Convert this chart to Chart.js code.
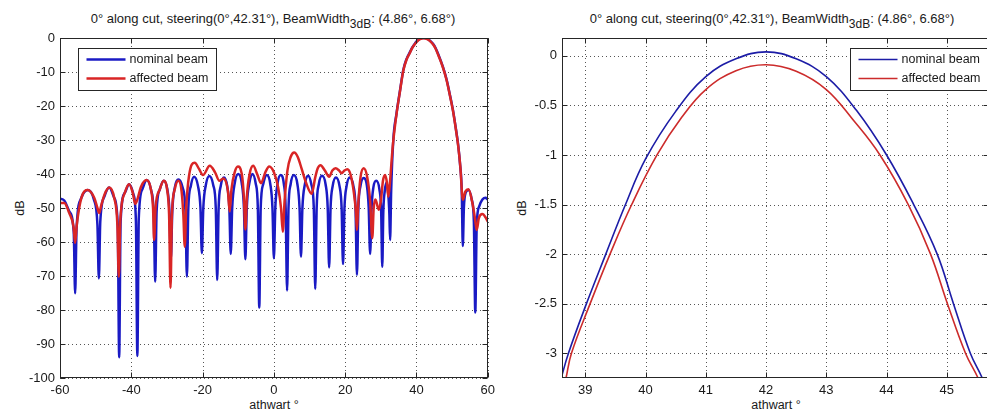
<!DOCTYPE html>
<html>
<head>
<meta charset="utf-8">
<script src="https://cdn.jsdelivr.net/npm/chart.js@4.4.0/dist/chart.umd.min.js"></script>
<style>
  html, body { margin: 0; padding: 0; background: #fff; }
  body { width: 987px; height: 414px; overflow: hidden; position: relative;
         font-family: "Liberation Sans", Arial, sans-serif; color: #1a1a1a; }
  canvas { position: absolute; top: 0; }
  .title { position: absolute; top: 12px; font-size: 13px; line-height: 14px; white-space: nowrap; transform: translateX(-50%); }
  .title sub { font-size: 12px; vertical-align: -5px; line-height: 0; }
  .xlabel { position: absolute; top: 398px; font-size: 12.5px; line-height: 14px; white-space: nowrap; transform: translateX(-50%); }
  .ylabel { position: absolute; font-size: 12.5px; line-height: 14px; transform: translate(-50%, -50%) rotate(-90deg); }
</style>
</head>
<body>
<div class="title" style="left:273px">0° along cut, steering(0°,42.31°), BeamWidth<sub>3dB</sub>: (4.86°, 6.68°)</div>
<div class="title" style="left:772px">0° along cut, steering(0°,42.31°), BeamWidth<sub>3dB</sub>: (4.86°, 6.68°)</div>
<div class="ylabel" style="left:20px; top:208px">dB</div>
<div class="ylabel" style="left:522px; top:208px">dB</div>
<div class="xlabel" style="left:274px">athwart °</div>
<div class="xlabel" style="left:776px">athwart °</div>
<canvas id="fullCut" width="500" height="414" style="left:0"></canvas>
<canvas id="peakZoom" width="500" height="414" style="left:500px"></canvas>
<script>
// athwart angle (deg), level (dB)
const nominalBeam = [
  [-60,-47.3],[-58.8,-47.8],[-57.4,-51],[-56.15,-57],[-55.75,-75.1],[-55.35,-56],[-54.0,-47],[-52.2,-44.7],
  [-50.5,-47.5],[-49.5,-55],[-49.1,-70.7],[-48.7,-54],[-47.5,-46.5],[-46.2,-44.0],[-44.8,-47],[-43.8,-55],
  [-43.4,-93.9],[-43.0,-54],[-41.8,-45.5],[-40.6,-43.0],[-39.4,-46],[-38.7,-54],[-38.3,-93.5],[-37.9,-53],
  [-36.9,-44.5],[-35.7,-41.8],[-34.5,-44.5],[-33.7,-52],[-33.3,-71.7],[-32.9,-51],[-32.0,-44.5],[-30.9,-42.0],
  [-29.9,-44.5],[-29.3,-51],[-28.9,-65],[-28.5,-51],[-27.8,-44],[-26.8,-41.6],[-25.6,-44],[-24.8,-51],
  [-24.4,-70.2],[-24.0,-50],[-23.3,-43.5],[-22.4,-40.8],[-21.3,-43.5],[-20.6,-50],[-20.2,-63.3],[-19.8,-50],
  [-19.1,-43.3],[-18.1,-40.6],[-17.0,-43.3],[-16.3,-50],[-15.9,-71.2],[-15.5,-50],[-14.9,-43.5],[-14.0,-41.0],
  [-13.1,-43.5],[-12.5,-50],[-12.1,-63.5],[-11.7,-50],[-11.0,-42.8],[-10.0,-40.0],[-9.0,-42.8],[-8.4,-50],
  [-8.0,-65.1],[-7.6,-50],[-6.9,-42.8],[-6.0,-40.0],[-5.1,-42.8],[-4.5,-50],[-4.1,-79.3],[-3.7,-50],
  [-3.0,-43],[-2.0,-40.3],[-1.0,-43],[-0.4,-50],[0.0,-64.8],[0.4,-50],[1.0,-43],[1.9,-40.3],
  [2.8,-43],[3.3,-50],[3.7,-74.3],[4.1,-50],[4.7,-43],[5.6,-40.3],[6.6,-43],[7.2,-50],
  [7.6,-64.3],[8.0,-50],[8.7,-43],[9.6,-40.5],[10.5,-43],[11.2,-50],[11.6,-73.8],[12.0,-50],
  [12.6,-43],[13.5,-40.5],[14.5,-43],[15.1,-50],[15.5,-67.5],[15.9,-50],[16.5,-43.5],[17.4,-41],
  [18.4,-43.5],[19.0,-50],[19.4,-66.5],[19.8,-50],[20.4,-43.5],[21.3,-41],[22.3,-43.5],[22.9,-50],
  [23.3,-69.7],[23.7,-50],[24.3,-43.5],[25.2,-41.2],[26.1,-43.5],[26.6,-50],[27.0,-63.5],[27.4,-50],
  [27.9,-44],[28.7,-42.0],[29.6,-44.5],[30.1,-51],[30.4,-67.3],[30.7,-51],[31.1,-45],[31.6,-42.5],
  [32.1,-46],[32.4,-52],[32.6,-59.4],[32.9,-45],[33.5,-30],[34.4,-22.2],[35.4,-15.3],[36.3,-9.4],
  [37.2,-6.2],[38.1,-4.3],[38.72,-3.0],[39.34,-2.0],[40.02,-1.0],[41.0,-0.21],[42.0,0.04],[43.0,-0.21],
  [44.0,-1.0],[44.84,-2.0],[45.39,-3.0],[46.2,-5.0],[47.4,-8.4],[48.4,-12.0],[49.3,-16.3],[50.2,-21.0],
  [51.1,-27.0],[51.7,-31.5],[52.2,-36.8],[52.7,-45],[53.0,-61.2],[53.3,-50],[53.8,-45.5],[54.6,-44.7],
  [55.5,-47.5],[56.1,-54],[56.5,-80.7],[56.9,-55],[57.6,-49.5],[58.5,-47.5],[59.4,-47.0],[60,-47.5]
];

const affectedBeam = [
  [-60,-48.6],[-58.8,-48.5],[-57.4,-51.5],[-56.2,-55.5],[-55.75,-60.3],[-55.3,-55],[-54.0,-47],[-52.2,-44.7],
  [-50.4,-47],[-49.5,-50],[-49.0,-51.5],[-48.5,-49.5],[-47.5,-46],[-46.2,-44.0],[-44.8,-47],[-43.9,-55],
  [-43.5,-70.2],[-43.1,-54],[-41.8,-45.5],[-40.6,-43.0],[-39.6,-45.5],[-38.9,-48.8],[-38.3,-47.5],[-37.3,-43.8],
  [-35.7,-41.8],[-34.5,-44.5],[-33.9,-50],[-33.6,-59.4],[-33.2,-50],[-32.0,-44.5],[-30.9,-42.0],[-29.9,-45],
  [-29.4,-52],[-29.0,-73.5],[-28.6,-52],[-27.8,-44.5],[-26.8,-42],[-25.9,-45],[-25.4,-52],[-25.0,-61.4],
  [-24.6,-50],[-23.8,-40.5],[-22.2,-36.7],[-21.0,-38.5],[-19.9,-40.3],[-18.0,-37.6],[-16.5,-39.5],[-15.3,-42],
  [-14.2,-41.3],[-12.9,-45],[-12.4,-51],[-11.9,-44.5],[-11.0,-39.5],[-10.1,-37.8],[-9.0,-40],[-8.4,-47],
  [-8.0,-56.3],[-7.6,-47],[-6.8,-40],[-5.8,-37.6],[-4.7,-40],[-3.6,-42.7],[-2.4,-39.5],[-1.3,-37.8],
  [0.0,-39.5],[1.2,-44],[2.0,-50],[2.5,-57],[3.0,-48],[3.8,-39],[4.7,-35],[5.7,-33.7],
  [6.7,-35],[7.8,-38.5],[9.0,-42.5],[10.6,-45.8],[11.6,-41],[12.3,-38.3],[13.1,-37.4],[14.3,-39],
  [15.5,-40.8],[16.4,-39],[17.3,-38.3],[18.3,-39],[19.0,-39.8],[19.8,-39],[20.6,-38.6],[21.6,-40.5],
  [22.5,-46],[23.0,-51],[23.3,-56.5],[23.6,-50],[24.3,-41],[25.2,-38.3],[26.2,-41],[27.0,-48],
  [27.6,-58.9],[28.0,-50],[28.5,-47.5],[29.4,-50.5],[30.0,-48],[30.6,-42],[31.2,-40.3],[31.7,-42.5],
  [32.1,-46.7],[32.6,-42],[33.1,-35],[33.5,-30.2],[34.4,-22.4],[35.4,-15.5],[36.3,-9.6],[37.2,-6.4],
  [38.1,-4.5],[38.77,-3.0],[39.41,-2.0],[40.19,-1.0],[41.0,-0.34],[42.0,-0.09],[43.0,-0.34],[43.89,-1.0],
  [44.73,-2.0],[45.31,-3.0],[46.1,-5.0],[47.4,-8.6],[48.4,-12.2],[49.3,-16.5],[50.2,-21.2],[51.1,-27.2],
  [51.7,-31.7],[52.3,-37.8],[53.0,-47.6],[53.7,-45.2],[54.6,-44.5],[55.7,-48.6],[56.4,-53],[56.9,-56.5],
  [57.5,-53],[58.5,-51.8],[59.4,-52.8],[60,-54]
];

// main lobe
const zoomNominal = [
  [38.6,-3.25],[38.72,-3.0],[39.0,-2.53],[39.34,-2.0],[39.66,-1.51],[40.0,-1.04],[40.5,-0.56],
  [41.0,-0.21],[41.5,-0.03],[42.0,0.04],[42.5,-0.03],[43.0,-0.21],[43.5,-0.55],[44.0,-1.0],
  [44.45,-1.5],[44.84,-2.0],[45.11,-2.5],[45.39,-3.0],[45.58,-3.24],[45.72,-3.45]
];
const zoomAffected = [
  [38.68,-3.25],[38.77,-3.0],[39.08,-2.5],[39.41,-2.0],[39.77,-1.5],[40.19,-1.0],[40.6,-0.62],
  [41.0,-0.34],[41.5,-0.15],[42.0,-0.09],[42.5,-0.155],[43.0,-0.34],[43.45,-0.65],[43.89,-1.0],
  [44.36,-1.5],[44.73,-2.0],[45.01,-2.5],[45.31,-3.0],[45.51,-3.24],[45.63,-3.42]
];

const fullAngleTicks = { min: -60, max: 60, step: 20 };
const fullDbTicks = { min: -100, max: 0, step: 10 };
const zoomAngleTicks = { min: 38.613, max: 45.7, step: 1 };
const zoomDbTicks = { min: -3.25, max: 0.18, step: 0.5 };

const textColor = '#1a1a1a';
const fontFamily = '"Liberation Sans", Arial, sans-serif';

// MATLAB-ish axes: dotted grid under the lines, box + inward ticks + legend on top
const matlabFrame = {
  id: 'matlabFrame',
  beforeDatasetsDraw(chart) {
    const { ctx, chartArea: a, scales: { x, y } } = chart;
    ctx.save();
    ctx.strokeStyle = '#555';
    ctx.lineWidth = 1;
    ctx.setLineDash([1, 3]);
    ctx.beginPath();
    x.ticks.forEach(t => {
      const px = Math.round(x.getPixelForValue(t.value)) + 0.5;
      ctx.moveTo(px, a.top); ctx.lineTo(px, a.bottom);
    });
    y.ticks.forEach(t => {
      const py = Math.round(y.getPixelForValue(t.value)) + 0.5;
      ctx.moveTo(a.left, py); ctx.lineTo(a.right, py);
    });
    ctx.stroke();
    ctx.restore();
  },
  afterDatasetsDraw(chart, args, opts) {
    const { ctx, chartArea: a, scales: { x, y } } = chart;
    const L = Math.round(a.left) + 0.5, R = Math.round(a.right) - 0.5;
    const T = Math.round(a.top) + 0.5, B = Math.round(a.bottom) - 0.5;
    ctx.save();
    ctx.strokeStyle = '#262626';
    ctx.lineWidth = 1;
    ctx.strokeRect(L, T, R - L, B - T);
    ctx.beginPath();
    x.ticks.forEach(t => {
      const px = Math.round(x.getPixelForValue(t.value)) + 0.5;
      ctx.moveTo(px, B); ctx.lineTo(px, B - 5);
      ctx.moveTo(px, T); ctx.lineTo(px, T + 5);
    });
    y.ticks.forEach(t => {
      const py = Math.round(y.getPixelForValue(t.value)) + 0.5;
      ctx.moveTo(L, py); ctx.lineTo(L + 5, py);
      ctx.moveTo(R, py); ctx.lineTo(R - 5, py);
    });
    ctx.stroke();

    const box = opts.legend;
    const bx = Math.round(a.left + box.dx) + 0.5, by = Math.round(a.top + box.dy) + 0.5;
    ctx.fillStyle = '#fff';
    ctx.fillRect(bx, by, box.w, box.h);
    ctx.strokeRect(bx, by, box.w, box.h);
    ctx.font = '12.5px ' + fontFamily;
    ctx.textBaseline = 'middle';
    chart.data.datasets.forEach((ds, i) => {
      const ly = by + 11 + i * 19;
      ctx.strokeStyle = ds.borderColor;
      ctx.lineWidth = box.lineWidth;
      ctx.beginPath();
      ctx.moveTo(bx + 8, ly); ctx.lineTo(bx + 47, ly);
      ctx.stroke();
      ctx.fillStyle = textColor;
      ctx.fillText(ds.label, bx + 51, ly);
    });
    ctx.restore();
  }
};

function beamChart(id, nominal, affected, cfg) {
  const axis = (range, fit) => ({
    type: 'linear',
    min: range.min,
    max: range.max,
    afterFit: fit,
    grid: { display: false, drawTicks: false },
    border: { display: false },
    ticks: {
      stepSize: range.step,
      includeBounds: false,
      autoSkip: false,
      maxRotation: 0,
      padding: 5,
      color: textColor,
      font: { family: fontFamily, size: 13 },
      callback: v => String(v)
    }
  });
  return new Chart(document.getElementById(id), {
    type: 'line',
    data: {
      datasets: [
        { label: 'nominal beam', data: nominal.map(([a, d]) => ({ x: a, y: d })),
          borderColor: cfg.blue, borderWidth: cfg.lineWidth, order: 1 },
        { label: 'affected beam', data: affected.map(([a, d]) => ({ x: a, y: d })),
          borderColor: cfg.red, borderWidth: cfg.lineWidth, order: 0 }
      ]
    },
    options: {
      responsive: false,
      animation: false,
      devicePixelRatio: 1,
      layout: { padding: cfg.padding },
      elements: {
        point: { radius: 0 },
        line: cfg.curve
      },
      plugins: {
        legend: { display: false },
        tooltip: { enabled: false },
        matlabFrame: { legend: cfg.legend }
      },
      scales: {
        x: axis(cfg.xTicks, s => { s.height = 36; }),
        y: axis(cfg.yTicks, s => { s.width = cfg.yWidth; })
      }
    },
    plugins: [matlabFrame]
  });
}

beamChart('fullCut', nominalBeam, affectedBeam, {
  xTicks: fullAngleTicks, yTicks: fullDbTicks,
  padding: { left: 0, right: 9, top: 38, bottom: 0 }, yWidth: 60,
  blue: '#1a1ac4', red: '#d92525', lineWidth: 2.5,
  curve: { cubicInterpolationMode: 'monotone', fill: false },
  legend: { dx: 18, dy: 10, w: 138, h: 42, lineWidth: 2.5 }
});

beamChart('peakZoom', zoomNominal, zoomAffected, {
  xTicks: zoomAngleTicks, yTicks: zoomDbTicks,
  padding: { left: 0, right: 11, top: 38, bottom: 0 }, yWidth: 62,
  blue: '#1c1ca6', red: '#cc2b2b', lineWidth: 1.6,
  curve: { tension: 0.4, fill: false },
  legend: { dx: 288, dy: 10, w: 150, h: 42, lineWidth: 1.6 }
});
</script>
</body>
</html>
